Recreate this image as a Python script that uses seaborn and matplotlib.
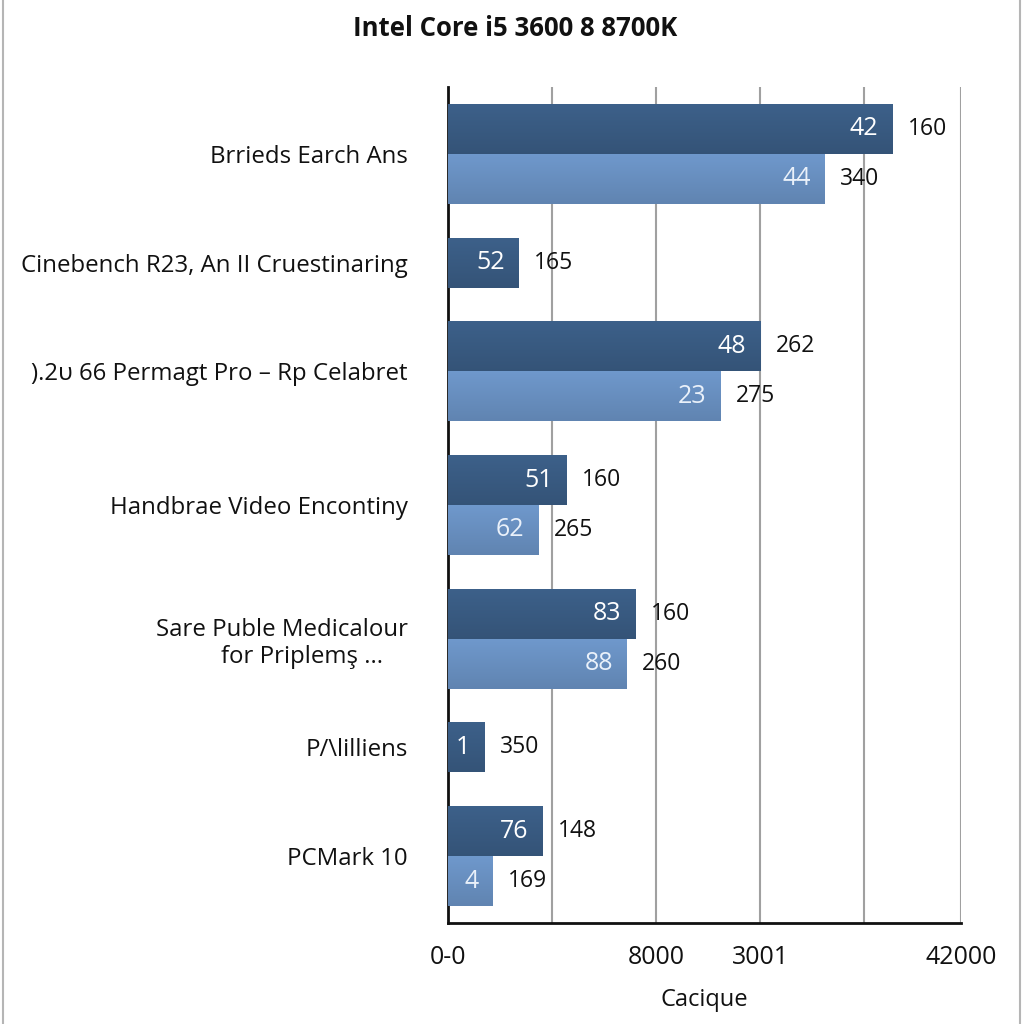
import numpy as np
import pandas as pd
import matplotlib
matplotlib.use("Agg")
import matplotlib.pyplot as plt
import seaborn as sns
from matplotlib.lines import Line2D
from matplotlib.colors import to_rgb

# Dados
title = "Intel Core i5 3600 8 8700K"
categories = [
    "Brrieds Earch Ans",
    "Cinebench R23, An II Cruestinaring",
    ").2\u03c5 66 Permagt Pro \u2013 Rp Celabret",
    "Handbrae Video Encontiny",
    "Sare Puble Medicalour\nfor Priplem\u015f ...    ",
    "P/\\lilliens",
    "PCMark 10",
]
dark_vals = [427, 68, 300, 114, 180, 35, 91]
light_vals = [362, None, 262, 87, 172, None, 43]
dark_inside = ["42", "52", "48", "51", "83", "1", "76"]
light_inside = ["44", None, "23", "62", "88", None, "4"]
dark_outside = ["160", "165", "262", "160", "160", "350", "148"]
light_outside = ["340", None, "275", "265", "260", None, "169"]
xtick_vals = [0, 200, 300, 493]
xtick_labels = ["0-0", "8000", "3001", "42000"]
xgrid_extra = [100, 400]
xlabel = "Cacique"

colors = {"dark": "#2d5a8e", "light": "#5a8ecf"}

# Monta a tabela com posições (barra = 1 unidade, folga nas bordas do grupo)
gap = 0.34
rows = []
bounds = [0.0]
centers = []
pos = 0.0
for i, cat in enumerate(categories):
    start = pos
    k = 0
    for serie, vals, ins, outs in [("dark", dark_vals, dark_inside, dark_outside),
                                   ("light", light_vals, light_inside, light_outside)]:
        if vals[i] is None:
            continue
        rows.append(dict(y=start + gap + k + 0.5, value=vals[i], series=serie,
                         inside=ins[i], outside=outs[i]))
        k += 1
    end = start + k + 2 * gap
    centers.append((start + end) / 2)
    bounds.append(end)
    pos = end

df = pd.DataFrame(rows)

sns.set_style("white")
plt.rcParams["font.family"] = ["Open Sans", "DejaVu Sans"]

fig, ax = plt.subplots(figsize=(10.24, 10.24), dpi=100)
fig.subplots_adjust(left=448 / 1024, right=961 / 1024, top=1 - 87 / 1024, bottom=1 - 923 / 1024)

sns.barplot(data=df, x="value", y="y", hue="series", orient="y", native_scale=True,
            dodge=False, width=1.0, palette=colors, legend=False, errorbar=None,
            linewidth=0, ax=ax, zorder=3)

# Degradê vertical suave nas barras
for p in list(ax.patches):
    x0, y0, w, h = p.get_x(), p.get_y(), p.get_width(), p.get_height()
    base = np.array(to_rgb(p.get_facecolor()))
    t = np.linspace(0, 1, 64)[:, None]
    top = np.clip(base * 1.06, 0, 1)
    bot = base * 0.92
    grad = (top * (1 - t) + bot * t)[:, None, :]
    im = ax.imshow(grad, extent=(x0, x0 + w, y0 + h, y0), origin="upper",
                   aspect="auto", interpolation="bicubic", zorder=3)
    im.set_clip_path(p)

ax.set_xlim(0, xtick_vals[-1])
ax.set_ylim(bounds[-1], 0)

# Rótulos de valor
for _, r in df.iterrows():
    ax.annotate(r["inside"], xy=(r["value"], r["y"]), xytext=(-10, 0),
                textcoords="offset points", ha="right", va="center",
                color="white" if r["series"] == "dark" else "#eaf1fa",
                fontsize=18, zorder=5)
    ax.annotate(r["outside"], xy=(r["value"], r["y"]), xytext=(11, 0),
                textcoords="offset points", ha="left", va="center",
                color="#111111", fontsize=16.5, zorder=5)

# Eixos
ax.set_xticks(xtick_vals)
ax.set_xticklabels(xtick_labels)
ax.set_xticks(xgrid_extra, minor=True)
ax.grid(axis="x", which="both", color="#a0a0a0", linewidth=1.5)
ax.set_axisbelow(True)
ax.tick_params(axis="x", which="major", length=7, width=2, direction="out",
               labelsize=18, pad=9, colors="#111111")
ax.tick_params(axis="x", which="minor", length=0)

ax.set_yticks(bounds)
ax.set_yticklabels([])
ax.set_yticks(centers, minor=True)
ax.set_yticklabels(categories, minor=True, ha="right")
ax.tick_params(axis="y", which="major", length=7, width=2, direction="out")
ax.tick_params(axis="y", which="minor", length=0, pad=29, labelsize=17.3, colors="#111111")

sns.despine(ax=ax)
for s in ["left", "bottom"]:
    ax.spines[s].set_color("#111111")
    ax.spines[s].set_linewidth(2)

ax.set_xlabel(xlabel, fontsize=17, labelpad=13, color="#111111")
ax.set_ylabel("")

fig.text(0.503, 1 - 28 / 1024, title, ha="center", va="center", fontsize=18.5,
         fontweight="bold", family=["Open Sans", "DejaVu Sans"], color="#111111")

# Moldura lateral
for xf in [0.0025, 0.9965]:
    fig.add_artist(Line2D([xf, xf], [0, 1], color="#b5b5b5", lw=1.5, transform=fig.transFigure))

fig.savefig("out.png", dpi=100)
